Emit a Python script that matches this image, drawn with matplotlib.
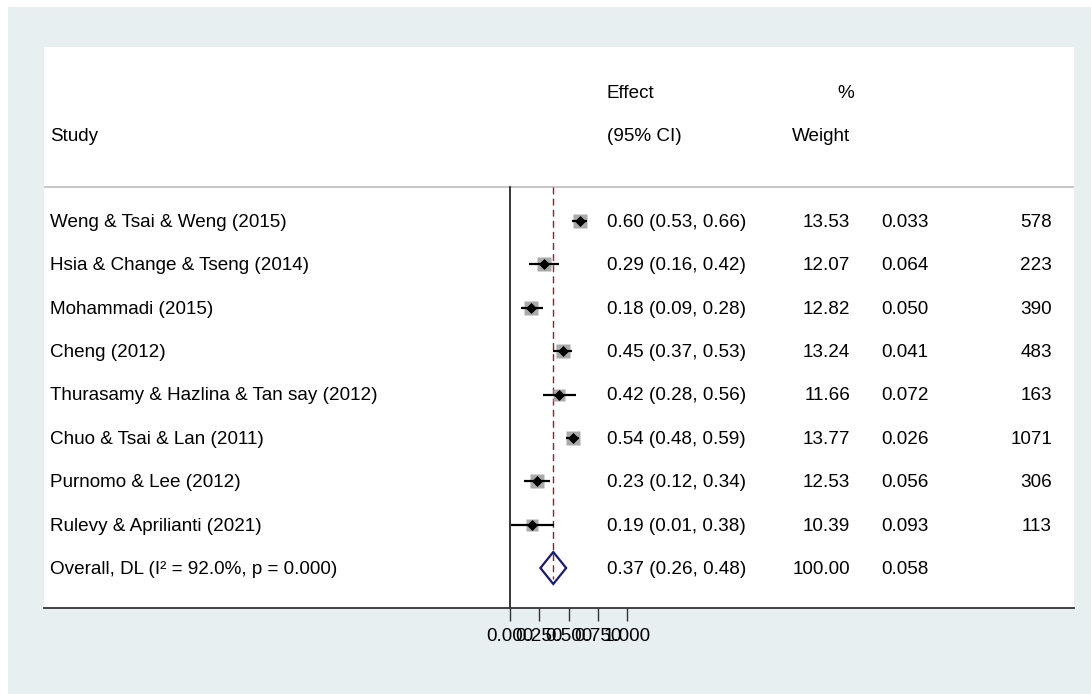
import matplotlib
matplotlib.use("Agg")
import matplotlib.pyplot as plt
from matplotlib.patches import Rectangle, Polygon
from matplotlib.transforms import blended_transform_factory

plt.rcParams['font.family'] = ['Liberation Sans', 'DejaVu Sans']

# ---- data ----
studies = [
    "Weng & Tsai & Weng (2015)",
    "Hsia & Change & Tseng (2014)",
    "Mohammadi (2015)",
    "Cheng (2012)",
    "Thurasamy & Hazlina & Tan say (2012)",
    "Chuo & Tsai & Lan (2011)",
    "Purnomo & Lee (2012)",
    "Rulevy & Aprilianti (2021)",
]
effect = [0.60, 0.29, 0.18, 0.45, 0.42, 0.54, 0.23, 0.19]
ci_low = [0.53, 0.16, 0.09, 0.37, 0.28, 0.48, 0.12, 0.01]
ci_high = [0.66, 0.42, 0.28, 0.53, 0.56, 0.59, 0.34, 0.38]
weight = [13.53, 12.07, 12.82, 13.24, 11.66, 13.77, 12.53, 10.39]
se = ["0.033", "0.064", "0.050", "0.041", "0.072", "0.026", "0.056", "0.093"]
n_obs = ["578", "223", "390", "483", "163", "1071", "306", "113"]

overall_label = "Overall, DL (I\u00b2 = 92.0%, p = 0.000)"
overall_effect = 0.37
overall_low = 0.26
overall_high = 0.48
overall_weight = "100.00"
overall_se = "0.058"

xticks = [0.0, 0.25, 0.5, 0.75, 1.0]

# ---- figure ----
W, H = 1091, 694
fig = plt.figure(figsize=(W / 100, H / 100), dpi=100)
fig.patch.set_facecolor("white")
bg = Rectangle((8 / W, 0), 1 - 8 / W, 1 - 7 / H, transform=fig.transFigure,
               facecolor="#e8eff1", edgecolor="none", zorder=-10)
fig.add_artist(bg)

# plot region (white panel)
left, right, top, bottom = 44, 1074, 47, 608
ax = fig.add_axes([left / W, 1 - bottom / H, (right - left) / W, (bottom - top) / H])
ax.set_facecolor("white")
ax.set_zorder(1)

# x: effect scale; 0 sits at px 510, 1 at px 627
x0_px, x1_px = 510, 627
ppu = x1_px - x0_px
ax.set_xlim((left - x0_px) / ppu, (right - x0_px) / ppu)
# y: study rows; row 0 at px 221, row 8 at px 568
r0_px, r8_px = 221, 568
rstep = (r8_px - r0_px) / 8
ax.set_ylim((bottom - r0_px) / rstep, (top - r0_px) / rstep)

fs = 13.6

for s in ["top", "left", "right"]:
    ax.spines[s].set_visible(False)
ax.spines["bottom"].set_color("#333333")
ax.spines["bottom"].set_linewidth(1.3)
ax.set_yticks([])
ax.set_xticks(xticks)
ax.set_xticklabels([f"{t:.3f}" for t in xticks])
ax.tick_params(axis="x", length=9, width=1, color="#333333", pad=5.5, labelsize=fs)

tr = blended_transform_factory(ax.transAxes, ax.transData)

def fx(px):
    return (px - left) / (right - left)

# small downward nudge so text centres sit on the row lines
dy = 1.5 / rstep

sep_y = (187 - r0_px) / rstep
head1 = (92 - r0_px) / rstep
head2 = (135 - r0_px) / rstep

def put(xpx, y, s, ha):
    ax.text(fx(xpx), y + dy, s, transform=tr, fontsize=fs, va="center", ha=ha)

# header
put(50, head2, "Study", "left")
put(607, head1, "Effect", "left")
put(607, head2, "(95% CI)", "left")
put(854, head1, "%", "right")
put(850, head2, "Weight", "right")
ax.axhline(sep_y, color="#c8c8c8", lw=1.5)

# null line and overall-effect line
ax.plot([0, 0], [sep_y, ax.get_ylim()[0]], color="black", lw=1.1)
ax.plot([overall_effect, overall_effect], [sep_y, 8.25], color="#8b2332",
        lw=1.0, dashes=(5, 3))

# study rows: weight-scaled grey box, CI bar, point estimate
for i, name in enumerate(studies):
    ax.plot(effect[i], i, marker="s", ms=2.7 * weight[i] ** 0.5, color="#aaaaaa",
            mec="none", zorder=3)
    ax.plot([ci_low[i], ci_high[i]], [i, i], color="black", lw=1.6, zorder=4,
            solid_capstyle="butt")
    ax.plot(effect[i], i, marker="D", ms=4.8, mew=0.5, color="black", zorder=5)
    put(50, i, name, "left")
    put(607, i, f"{effect[i]:.2f} ({ci_low[i]:.2f}, {ci_high[i]:.2f})", "left")
    put(850, i, f"{weight[i]:.2f}", "right")
    put(881, i, se[i], "left")
    put(1052, i, n_obs[i], "right")

# overall diamond
yo = len(studies)
dh = 16 / rstep
ax.add_patch(Polygon([(overall_low, yo), (overall_effect, yo - dh),
                      (overall_high, yo), (overall_effect, yo + dh)],
                     closed=True, facecolor="none", edgecolor="#1a1a6e", lw=1.6, zorder=5))
put(50, yo, overall_label, "left")
put(607, yo, f"{overall_effect:.2f} ({overall_low:.2f}, {overall_high:.2f})", "left")
put(850, yo, overall_weight, "right")
put(881, yo, overall_se, "left")

fig.savefig("out.png", dpi=100, facecolor=fig.get_facecolor())
